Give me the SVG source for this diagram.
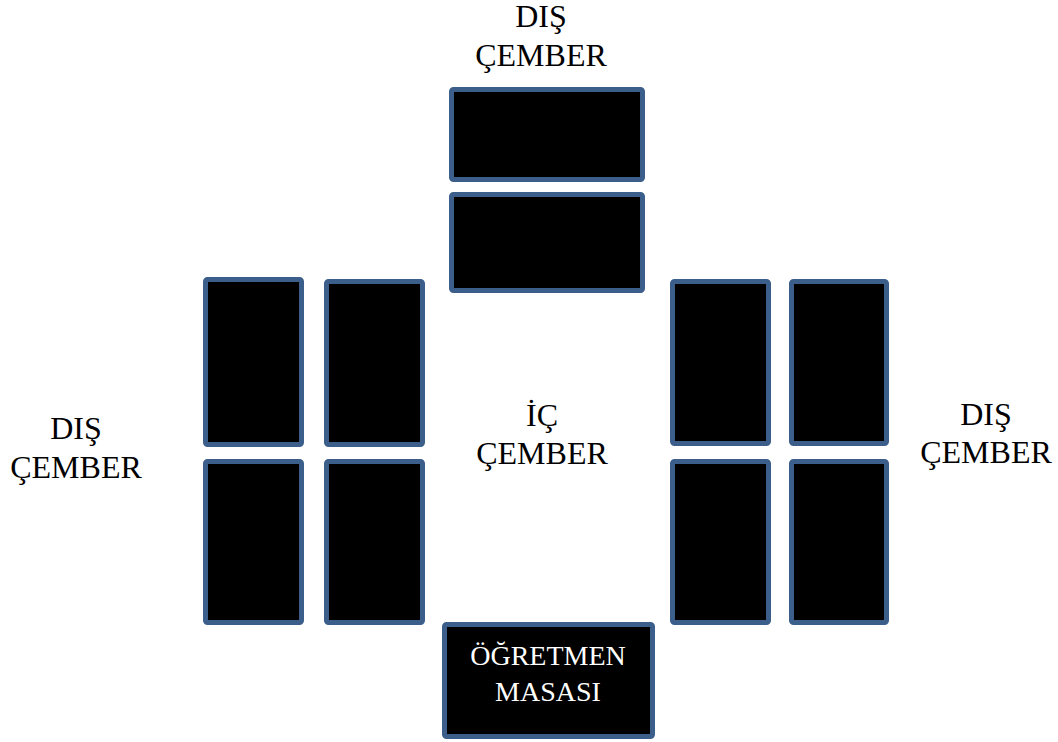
<svg xmlns="http://www.w3.org/2000/svg" width="1058" height="742" viewBox="0 0 1058 742">
<style>
.desk{fill:#000;stroke:#3b5e8b;stroke-width:5;}
</style>
<rect width="1058" height="742" fill="#fff"/>
<g id="top-desk-1"><rect class="desk" x="451.5" y="89.5" width="191" height="90" rx="2"/></g>
<g id="top-desk-2"><rect class="desk" x="451.5" y="194.5" width="191" height="96" rx="2"/></g>
<g id="left-desk-1"><rect class="desk" x="205.5" y="279.5" width="96" height="165" rx="2"/></g>
<g id="left-desk-2"><rect class="desk" x="326.5" y="281.5" width="96" height="163" rx="2"/></g>
<g id="left-desk-3"><rect class="desk" x="205.5" y="461.5" width="96" height="161" rx="2"/></g>
<g id="left-desk-4"><rect class="desk" x="326.5" y="461.5" width="96" height="161" rx="2"/></g>
<g id="right-desk-1"><rect class="desk" x="672.5" y="281.5" width="96" height="162" rx="2"/></g>
<g id="right-desk-2"><rect class="desk" x="791.5" y="281.5" width="95" height="162" rx="2"/></g>
<g id="right-desk-3"><rect class="desk" x="672.5" y="461.5" width="96" height="161" rx="2"/></g>
<g id="right-desk-4"><rect class="desk" x="791.5" y="461.5" width="95" height="161" rx="2"/></g>
<g id="teacher-desk" font-family="Liberation Serif" font-size="28" fill="#fff" text-anchor="middle">
<rect class="desk" x="444.5" y="624.5" width="208" height="112" rx="2"/>
<text x="548" y="665">ÖĞRETMEN</text>
<text x="548" y="701">MASASI</text>
</g>
<g font-family="Liberation Serif" font-size="32" fill="#000" text-anchor="middle">
<g id="label-top"><text x="541" y="27">DIŞ</text><text x="541" y="66">ÇEMBER</text></g>
<g id="label-left"><text x="76" y="439">DIŞ</text><text x="76" y="478">ÇEMBER</text></g>
<g id="label-center"><text x="542" y="426">İÇ</text><text x="542" y="464">ÇEMBER</text></g>
<g id="label-right"><text x="986" y="425">DIŞ</text><text x="986" y="463">ÇEMBER</text></g>
</g>
<g id="connectors"></g>
</svg>
